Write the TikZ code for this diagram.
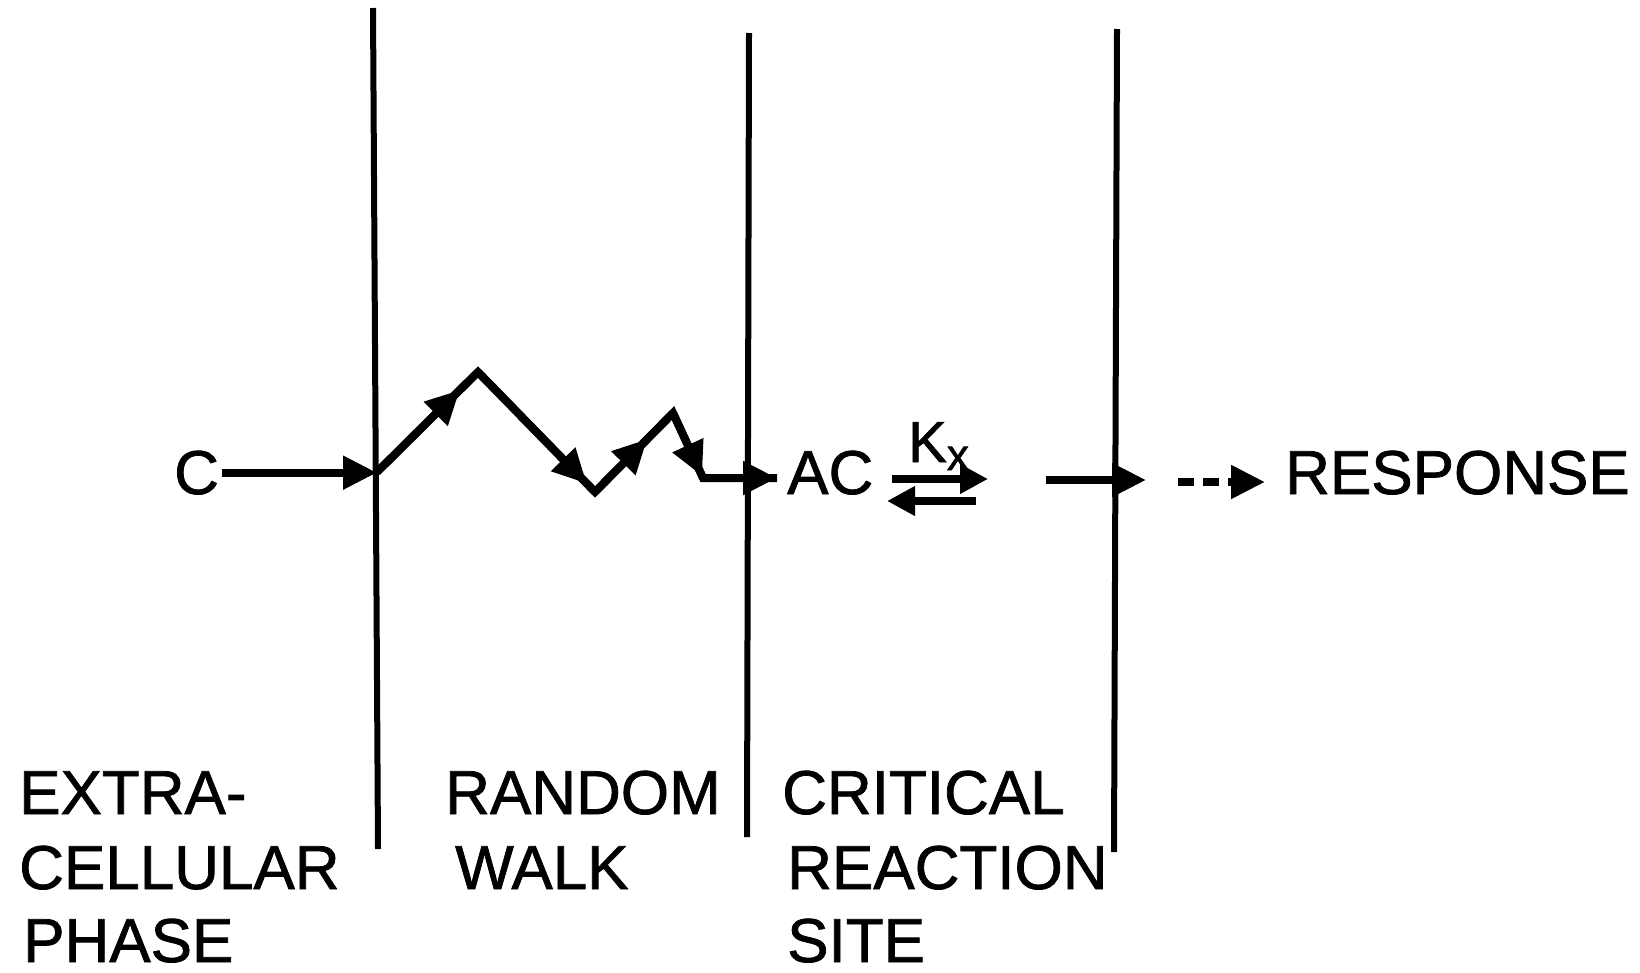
\documentclass[tikz,border=0pt]{standalone}
\usepackage{fontspec}
\setmainfont{Liberation Sans}[FakeBold=1.2]
\usetikzlibrary{arrows.meta,decorations.markings}
\begin{document}
\begin{tikzpicture}[x=1pt,y=-1pt,
  wall/.style={line width=6pt},
  flow/.style={line width=8pt,line join=miter},
  head/.style={-{Triangle[length=34pt,width=32pt]}},
  smallhead/.style={-{Triangle[length=28pt,width=28pt]}},
  midhead/.style={postaction={decorate,decoration={markings,mark=at position #1 with {\arrow{Triangle[length=34pt,width=32pt]}}}}},
  lbl/.style={anchor=base west,inner sep=0pt,font=\fontsize{62}{62}\selectfont}]
\useasboundingbox (0,0) rectangle (1640,972);
% walls
\coordinate (l1t) at (373,8);   \coordinate (l1b) at (378,849);
\coordinate (l2t) at (749,33);  \coordinate (l2b) at (747,837);
\coordinate (l3t) at (1117,29); \coordinate (l3b) at (1114,852);
\draw[wall] (l1t) -- (l1b);
\draw[wall] (l2t) -- (l2b);
\draw[wall] (l3t) -- (l3b);
% C and entry arrow
\node[lbl] (c) at (174,494) {C};
\coordinate (w0) at (377,472);
\draw[flow,head] ([xshift=3pt]c.east) -- (c.east -| w0);
% random walk
\coordinate (w1) at (478,372);
\coordinate (w2) at (595,492);
\coordinate (w3) at (673,413);
\coordinate (w4) at (703,478);
\coordinate (w5) at (777,478);
\draw[flow] (w0) -- (w1) -- (w2) -- (w3) -- (w4) -- (w5);
\draw[flow,midhead=0.82] (w0) -- (w1);
\draw[flow,midhead=0.93] (w1) -- (w2);
\draw[flow,midhead=0.67] (w2) -- (w3);
\draw[flow,midhead=0.97] (w3) -- (w4);
\draw[flow,head] (w4) -- (w5);
% reaction site
\node[lbl] (ac) at (787,494) {AC};
\node[anchor=base west,inner sep=0pt,font=\fontsize{58}{58}\selectfont] (kx) at (908,462) {K\raisebox{-8pt}{\fontsize{44}{44}\selectfont x}};
\coordinate (r1s) at (892,479); \coordinate (r1e) at (988,479);
\coordinate (r2s) at (976,501); \coordinate (r2e) at (887,501);
\draw[flow,smallhead] (r1s) -- (r1e);
\draw[flow,smallhead] (r2s) -- (r2e);
% to response
\coordinate (p1) at (1046,480); \coordinate (p2) at (1146,480);
\draw[flow,head] (p1) -- (p2);
\node[lbl] (resp) at (1285,494) {RESPONSE};
\coordinate (d1) at (1178,482); \coordinate (d2) at (1265,482);
\draw[flow,dash pattern=on 16pt off 9pt,-{Triangle[length=34pt,width=32pt]}] (d1) -- (d2);
% labels
\node[lbl] (ex1) at (19,814) {EXTRA-};
\node[lbl] (ex2) at (19,889) {CELLULAR};
\node[lbl] (ex3) at (23,962) {PHASE};
\node[lbl] (rw1) at (445,814) {RANDOM};
\node[lbl] (rw2) at (455,889) {WALK};
\node[lbl] (cr1) at (782,814) {CRITICAL};
\node[lbl] (cr2) at (787,889) {REACTION};
\node[lbl] (cr3) at (787,962) {SITE};
\end{tikzpicture}
\end{document}
